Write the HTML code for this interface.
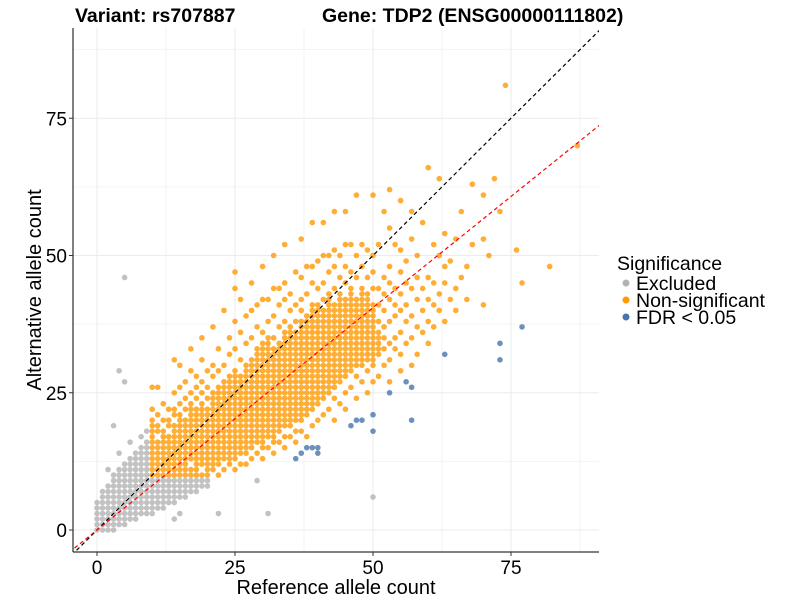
<!DOCTYPE html>
<html><head><meta charset="utf-8"><style>
html,body{margin:0;padding:0;background:#fff;}
svg{display:block;font-family:"Liberation Sans",sans-serif;}
</style></head><body>
<svg id="chart" width="800" height="600">
<g id="grid"></g>
<g id="points"></g>
<g id="axes"></g>
<text x="75" y="22" font-size="19.5" font-weight="bold">Variant: rs707887</text>
<text x="322" y="22" font-size="19.5" font-weight="bold">Gene: TDP2 (ENSG00000111802)</text>
<text x="336" y="594" font-size="20" text-anchor="middle">Reference allele count</text>
<text x="41" y="290" font-size="20" text-anchor="middle" transform="rotate(-90 41 290)">Alternative allele count</text>
<g>
<text x="617" y="270" font-size="19.5">Significance</text>
<g><circle cx="626" cy="283" r="3.5" fill="#b3b3b3"/><text x="636" y="290" font-size="19.5">Excluded</text></g>
<g><circle cx="626" cy="300" r="3.5" fill="#ff9900"/><text x="636" y="307" font-size="19.5">Non-significant</text></g>
<g><circle cx="626" cy="317" r="3.5" fill="#4676ab"/><text x="636" y="324" font-size="19.5">FDR &lt; 0.05</text></g>
</g>
</svg>
<script>
const xTicks=[0,25,50,75];
const yTicks=[0,25,50,75];
const redSlope=0.81;
const orangeCols=[[10,"10-20,22,26"],[11,"10-16,18,19,21,26"],[12,"10-18,20,23"],[13,"10-17,19,20,22"],[14,"10-19,21,22,25,31"],[15,"10-21,23,26,30"],[16,"10-20,22,24,27"],[17,"10,11,13-23,25,29,33"],[18,"10-22,24,26,28"],[19,"10,12-23,25,27,31,35"],[20,"10-22,24,26,29"],[21,"11-25,28,30,37"],[22,"10,12-26,29,33"],[23,"11,13-27,30,40"],[24,"12-28,32,35"],[25,"11,13-29,33,38,44,47"],[26,"12,14-28,31,36,42"],[27,"12,14-30,34,39"],[28,"13,15-31,35,40,45"],[29,"14,16-33,37,41"],[30,"13,15-34,36,42,48"],[31,"15,17-35,38,42"],[32,"14,16-33,35,39,44,50"],[33,"16,18-34,37,41,44"],[34,"15,17,19-36,38,42,45,52"],[35,"17,19-37,40,43"],[36,"16,18,20-36,38,41,47"],[37,"18,20-38,40,42,46,53"],[38,"17,21-39,43,48"],[39,"19,22-40,41,45,48,56"],[40,"20,23-41,44,49"],[41,"21,24-40,42,45,50,56"],[42,"22,25-42,43,47,50"],[43,"20,24,26-41,44,48,51,58"],[44,"23,27-43,46,50"],[45,"22,25,28-42,45,48,52,58"],[46,"26,29-44,47,52"],[47,"24,28,30-42,46,50,61"],[48,"27,30-44,48,52"],[49,"25,29,31-43,46,51"],[50,"27,30-41,44,47,50,61"],[51,"28,32-36,38,41,44,52"],[52,"30,33,35,37,40,43,46,58"],[53,"27,31,34,38,42,45,48,55,62"],[54,"33,35,39,41,44,52"],[55,"29,32,36,40,43,47,51,60"],[56,"34,38,41,45,49"],[57,"30,35,39,44,53,58"],[58,"32,37,42,46,50"],[59,"36,40,44,56"],[60,"34,38,42,46,66"],[61,"37,41,45,52"],[62,"40,43,50,64"],[63,"38,45,48,54"],[64,"42,49"],[65,"40,44,53"],[66,"46,58"],[67,"42,48"],[68,"52,63"],[70,"41,53,61"],[71,"50"],[72,"64"],[73,"58"],[74,"81"],[76,"51"],[77,"45"],[82,"48"],[87,"70"]];
const grayCols=[[0,"0-5"],[1,"0-7"],[2,"0-8,11"],[3,"0-10,19"],[4,"1-11,14,29"],[5,"1-12,27,46"],[6,"2-13,16"],[7,"2-14"],[8,"3-15,17"],[9,"3-16,18"],[10,"3-9"],[11,"4-9"],[12,"4-9"],[13,"5-9"],[14,"2,5-9"],[15,"3,6-9"],[16,"6-9"],[17,"7-9"],[18,"7-9"],[19,"8-9"],[20,"8-9"],[22,"3"],[29,"9"],[31,"3"],[50,"6"]];
const blueX=[77,63,73,73,56,57,53,50,57,47,48,46,50,39,40,40,37,36,38];
const blueY=[37,32,34,31,27,26,25,21,20,20,20,19,18,15,15,14,14,13,15];

const NS="http://www.w3.org/2000/svg";
const X0=97,XS=5.52,Y0=530,YS=5.49,L=73,R=599,T=28,B=552;
const sx=v=>X0+v*XS, sy=v=>Y0-v*YS;
function mk(tag,attrs,parent){const e=document.createElementNS(NS,tag);for(const k in attrs)e.setAttribute(k,attrs[k]);parent.appendChild(e);return e;}
function parse(s){const out=[];s.split(",").forEach(p=>{if(p.includes("-")){const[a,b]=p.split("-").map(Number);for(let i=a;i<=b;i++)out.push(i);}else out.push(Number(p));});return out;}
const grid=document.getElementById("grid"),pts=document.getElementById("points"),axes=document.getElementById("axes");
for(let v=-12.5;v<=100;v+=12.5){const px=sx(v);if(px>L&&px<R){const g=mk("line",{x1:px,x2:px,y1:T,y2:B,stroke:"#ebebeb","stroke-width":(v%25===0)?1:0.6},grid);}
const py=sy(v);if(py>T&&py<B){const g=mk("line",{x1:L,x2:R,y1:py,y2:py,stroke:"#ebebeb","stroke-width":(v%25===0)?1:0.6},grid);}}
function dot(x,y,fill,op,name){const c=mk("circle",{cx:sx(x),cy:sy(y),r:2.8,fill:fill,"fill-opacity":op},pts);}
grayCols.forEach(([x,s])=>parse(s).forEach(y=>dot(x,y,"#b3b3b3",0.8,"point-excluded")));
orangeCols.forEach(([x,s])=>parse(s).forEach(y=>dot(x,y,"#ff9900",0.8,"point-non-significant")));
blueX.forEach((x,i)=>dot(x,blueY[i],"#4676ab",0.8,"point-fdr"));
const clip=mk("clipPath",{id:"cp"},pts);mk("rect",{x:L,y:T,width:R-L,height:B-T},clip);
const d1=mk("line",{x1:sx(-10),y1:sy(-10),x2:sx(100),y2:sy(100),stroke:"#000","stroke-width":1.2,"stroke-dasharray":"4,3","clip-path":"url(#cp)"},pts);


const d2=mk("line",{x1:sx(-10),y1:sy(-10*redSlope),x2:sx(100),y2:sy(100*redSlope),stroke:"#ff0000","stroke-width":1.2,"stroke-dasharray":"4,3","clip-path":"url(#cp)"},pts);


const ax=mk("line",{x1:L,y1:B,x2:R,y2:B,stroke:"#000","stroke-width":1},axes);


const ay=mk("line",{x1:L,y1:T,x2:L,y2:B,stroke:"#000","stroke-width":1},axes);


xTicks.forEach(v=>{mk("line",{x1:sx(v),x2:sx(v),y1:B,y2:B+4,stroke:"#333"},axes);const t=mk("text",{x:sx(v),y:B+22,"font-size":19,"text-anchor":"middle",fill:"#000"},axes);t.textContent=v;

});
yTicks.forEach(v=>{mk("line",{x1:L-4,x2:L,y1:sy(v),y2:sy(v),stroke:"#333"},axes);const t=mk("text",{x:L-6,y:sy(v)+7,"font-size":19,"text-anchor":"end",fill:"#000"},axes);t.textContent=v;

});
</script>
</body></html>
